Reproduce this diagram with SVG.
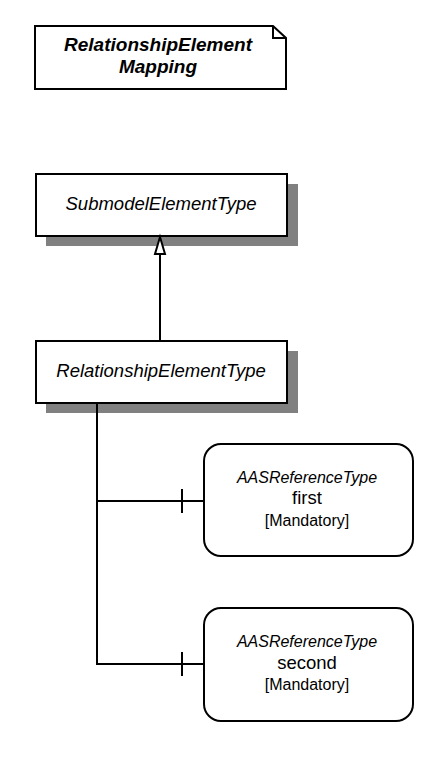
<svg xmlns="http://www.w3.org/2000/svg" width="444" height="762" viewBox="0 0 444 762">
<style>
.box{fill:#fff;stroke:#000;stroke-width:2}
.shadow{fill:#808080}
.line{fill:none;stroke:#000;stroke-width:2}
text{font-family:"Liberation Sans",Arial,sans-serif;text-anchor:middle;fill:#000}
.it{font-style:italic}
.bi{font-style:italic;font-weight:bold}
</style>
<rect width="444" height="762" fill="#fff"/>
<g id="note">
<path class="box" d="M35 26 H273 L286 38 V89 H35 Z"/>
<path class="line" d="M273 26 V38 H286"/>
<text class="bi" x="158" y="51" font-size="19">RelationshipElement</text>
<text class="bi" x="158" y="73" font-size="19">Mapping</text>
</g>
<g id="submodelElementType">
<rect class="shadow" x="46" y="184" width="252" height="62"/>
<rect class="box" x="36" y="174" width="251" height="62"/>
<text class="it" x="161" y="210" font-size="18.5">SubmodelElementType</text>
</g>
<g id="relationshipElementType">
<rect class="shadow" x="46" y="351" width="252" height="62"/>
<rect class="box" x="36" y="341" width="251" height="62"/>
<text class="it" x="161" y="377" font-size="18.5">RelationshipElementType</text>
</g>
<g id="first">
<rect class="box" x="204" y="444" width="209" height="112" rx="17"/>
<text class="it" x="307" y="483" font-size="16">AASReferenceType</text>
<text x="307" y="504" font-size="18.5">first</text>
<text x="307" y="526" font-size="16">[Mandatory]</text>
</g>
<g id="second">
<rect class="box" x="204" y="608" width="209" height="113" rx="17"/>
<text class="it" x="307" y="647" font-size="16">AASReferenceType</text>
<text x="307" y="669" font-size="18.5">second</text>
<text x="307" y="690" font-size="16">[Mandatory]</text>
</g>
<g id="connectors">
<path class="line" d="M160 254 V341"/>
<path d="M160 237 L165 254 H155 Z" fill="#fff" stroke="#000" stroke-width="2" stroke-linejoin="miter"/>
<path class="line" d="M97 403 V664 H204"/>
<path class="line" d="M97 501 H204"/>
<path class="line" d="M182 489 V513"/>
<path class="line" d="M182 652 V676"/>
</g>
</svg>
